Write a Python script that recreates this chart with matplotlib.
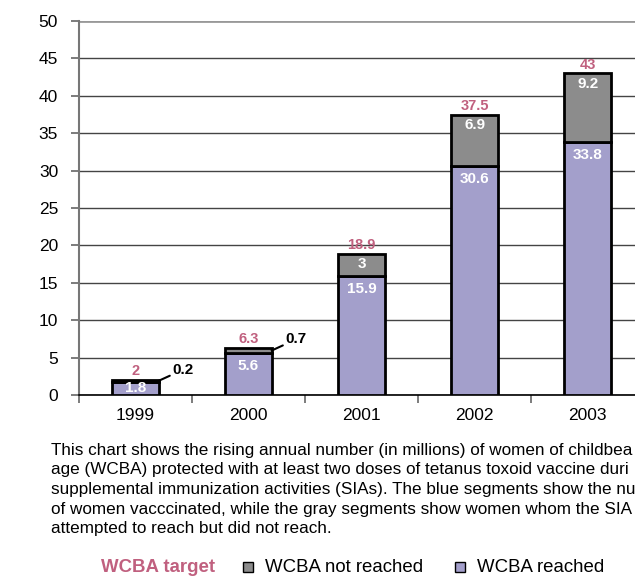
import numpy as np
import matplotlib.pyplot as plt
from matplotlib.patches import Rectangle

plt.rcParams["font.family"] = ["Liberation Sans", "DejaVu Sans"]

years = ["1999", "2000", "2001", "2002", "2003"]
reached = [1.8, 5.6, 15.9, 30.6, 33.8]
not_reached = [0.2, 0.7, 3, 6.9, 9.2]
target = [2, 6.3, 18.9, 37.5, 43]

# caption lines run off the right edge of the panel
caption = [
    "This chart shows the rising annual number (in millions) of women of childbea",
    "age (WCBA) protected with at least two doses of tetanus toxoid vaccine duri",
    "supplemental immunization activities (SIAs). The blue segments show the nu",
    "of women vacccinated, while the gray segments show women whom the SIA",
    "attempted to reach but did not reach.",
]

BLUE = "#a39fcb"
GRAY = "#8c8c8c"
PINK = "#c0607f"

fig = plt.figure(figsize=(6.35, 5.77), dpi=100)
# axes run a little past the right edge of the canvas
ax = fig.add_axes([0.1244, 0.3154, 0.89, 0.6482])

x = np.arange(len(years))
w = 0.41
ax.bar(x, reached, w, color=BLUE, edgecolor="black", linewidth=2, zorder=3)
ax.bar(x, not_reached, w, bottom=reached, color=GRAY, edgecolor="black",
       linewidth=2, zorder=3)

ax.set_xlim(-0.5, 4.5)
ax.set_ylim(0, 50)
ax.set_yticks(range(0, 51, 5))
ax.yaxis.grid(True, color="#444444", linewidth=1)
ax.set_axisbelow(True)
ax.tick_params(axis="y", labelsize=12.5, length=6, color="#666666", width=1.2, pad=9)
ax.set_xticks(x)
ax.set_xticklabels(years, fontsize=12.5)
ax.tick_params(axis="x", length=0, pad=9)
ax.set_xticks(np.arange(-0.5, 5, 1), minor=True)
ax.tick_params(axis="x", which="minor", length=6, color="#666666", width=1.2)
for side in ["top", "right"]:
    ax.spines[side].set_visible(False)
ax.spines["left"].set_color("#777777")
ax.spines["left"].set_linewidth(1.5)
ax.spines["bottom"].set_linewidth(1.2)
ax.get_ygridlines()[-1].set_color("#999999")
ax.get_ygridlines()[-1].set_linewidth(2)

for i in range(len(years)):
    ax.annotate(f"{target[i]:g}", (x[i], target[i]), xytext=(0, 6.3),
                textcoords="offset points", ha="center", va="center",
                color=PINK, fontsize=10.5, fontweight="bold", zorder=4)
    y_in = max(reached[i] - 1.75, reached[i] / 2)
    ax.text(x[i], y_in, f"{reached[i]:g}", ha="center", va="center",
            color="white", fontsize=11, fontweight="bold", zorder=4)
    if not_reached[i] >= 1:
        ax.text(x[i], target[i] - 1.45, f"{not_reached[i]:g}", ha="center",
                va="center", color="white", fontsize=11, fontweight="bold", zorder=4)
    else:
        ax.annotate(f"{not_reached[i]:g}", (x[i] + w / 2, target[i] - not_reached[i] / 2),
                    xytext=(10, 3), textcoords="offset points", ha="left",
                    va="bottom", color="black", fontsize=11, fontweight="bold",
                    arrowprops=dict(arrowstyle="-", color="black", lw=1.5,
                                    shrinkA=0, shrinkB=0), zorder=4)

for k, line in enumerate(caption):
    fig.text(51 / 635, 1 - (450 + 19.7 * k) / 577, line, fontsize=12.35,
             ha="left", va="center")

ly = 1 - 567 / 577
fig.text(101 / 635, ly, "WCBA target", color=PINK, fontsize=13.4,
         fontweight="bold", ha="left", va="center")
for px, col, lab in [(243, GRAY, "WCBA not reached"), (455, BLUE, "WCBA reached")]:
    fig.patches.append(Rectangle((px / 635, ly - 5 / 577), 10 / 635, 10 / 577,
                                 transform=fig.transFigure, facecolor=col,
                                 edgecolor="black", linewidth=1))
    fig.text((px + 22) / 635, ly, lab, fontsize=13.4, ha="left", va="center")

fig.savefig("out.png", dpi=100)
